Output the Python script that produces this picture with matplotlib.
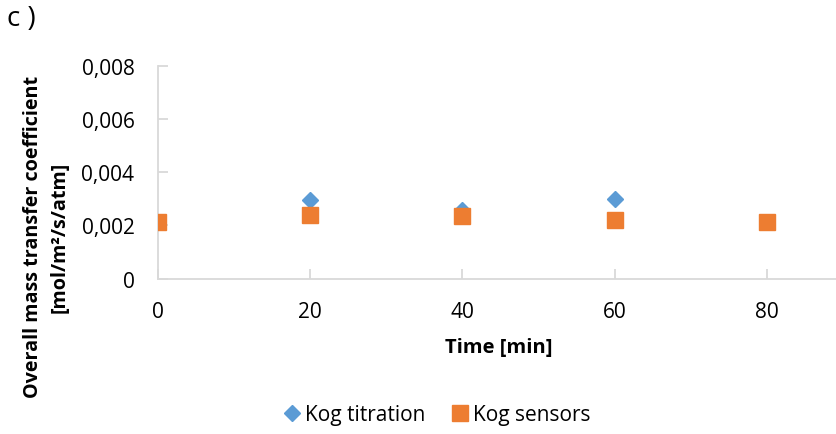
import matplotlib
matplotlib.use("Agg")
import matplotlib.pyplot as plt
from matplotlib.ticker import FuncFormatter, FixedLocator

plt.rcParams['font.family'] = ['Open Sans', 'DejaVu Sans']

# Sampling times and overall mass transfer coefficients
time_titration = [20, 40, 60]
kog_titration = [0.00296, 0.00258, 0.00299]
time_sensors = [0, 20, 40, 60, 80]
kog_sensors = [0.00212, 0.00240, 0.00236, 0.00221, 0.00213]

x_ticks = [0, 20, 40, 60, 80]
y_ticks = [0, 0.002, 0.004, 0.006, 0.008]

fig = plt.figure(figsize=(8.37, 4.35), dpi=100)
ax = fig.add_axes([158 / 837, 155.5 / 435, 1 - 158 / 837, (279.5 - 67) / 435])

ax.plot(time_titration, kog_titration, linestyle='none', marker='D',
        markersize=8, color='#5B9BD5', label='Kog titration', zorder=3)
ax.plot(time_sensors, kog_sensors, linestyle='none', marker='s',
        markersize=11, color='#ED7D31', label='Kog sensors', zorder=4)

ax.set_xlim(0, 89.2)
ax.set_ylim(0, 0.008)
ax.xaxis.set_major_locator(FixedLocator(x_ticks))
ax.yaxis.set_major_locator(FixedLocator(y_ticks))


def comma_fmt(v, pos):
    if v == 0:
        return '0'
    return f'{v:.3f}'.replace('.', ',')


ax.yaxis.set_major_formatter(FuncFormatter(comma_fmt))
for s in ['top', 'right']:
    ax.spines[s].set_visible(False)
for s in ['left', 'bottom']:
    ax.spines[s].set_color('#D9D9D9')
    ax.spines[s].set_linewidth(1.3)
ax.spines['bottom'].set_clip_on(False)
ax.tick_params(axis='both', direction='in', length=7, width=1.3,
               color='#D9D9D9', labelsize=15, labelcolor='black')
ax.tick_params(axis='x', pad=16)
ax.tick_params(axis='y', pad=17)
ax.patch.set_alpha(0)

fig.text(499 / 837, 1 - 348 / 435, 'Time [min]', ha='center', va='center',
         fontsize=14.5, fontweight='bold')
fig.text(46 / 837, 1 - 237 / 435,
         'Overall mass transfer coefficient\n[mol/m\u00b2/s/atm]',
         rotation=90, ha='center', va='center', fontsize=14.2,
         fontweight='bold', linespacing=1.45)
fig.text(7 / 837, 1 - 19 / 435, 'c )', ha='left', va='center', fontsize=20)

fig.legend(loc='center', bbox_to_anchor=(436 / 837, 1 - 416 / 435), ncol=2,
           frameon=False, fontsize=15, handletextpad=0.12, columnspacing=1.2,
           handlelength=1.0)

fig.savefig('out.png', dpi=100)
